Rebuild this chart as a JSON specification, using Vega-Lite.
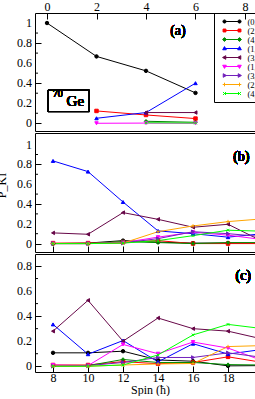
{
  "$schema": "https://vega.github.io/schema/vega-lite/v6.json",
  "padding": {"left": -6, "top": 0, "right": 0, "bottom": 0},
  "spacing": 0,
  "config": {
    "view": {"stroke": "black", "strokeWidth": 1},
    "font": "Liberation Serif",
    "axis": {
      "labelFont": "Liberation Serif", "labelFontSize": 12, "labelColor": "black",
      "titleFont": "Liberation Serif", "titleFontSize": 12, "titleColor": "black", "titleFontWeight": "normal",
      "domain": false, "tickColor": "black", "tickWidth": 1,
      "grid": false, "labelFlush": false, "labelOverlap": false
    }
  },
  "datasets": {
    "a": [
      {"s": 1, "x": 0, "v": 1.0}, {"s": 1, "x": 2, "v": 0.667}, {"s": 1, "x": 4, "v": 0.523}, {"s": 1, "x": 6, "v": 0.303},
      {"s": 2, "x": 2, "v": 0.123}, {"s": 2, "x": 4, "v": 0.083}, {"s": 2, "x": 6, "v": 0.047},
      {"s": 3, "x": 4, "v": 0.02}, {"s": 3, "x": 6, "v": 0.01},
      {"s": 4, "x": 2, "v": 0.05}, {"s": 4, "x": 4, "v": 0.107}, {"s": 4, "x": 6, "v": 0.40},
      {"s": 5, "x": 4, "v": 0.107}, {"s": 5, "x": 6, "v": 0.107},
      {"s": 6, "x": 2, "v": 0.0}, {"s": 6, "x": 4, "v": 0.002}, {"s": 6, "x": 6, "v": 0.0},
      {"s": 9, "x": 4, "v": 0.005}, {"s": 9, "x": 6, "v": 0.003}
    ],
    "b": [
      {"s": 1, "x": 8, "v": 0.0}, {"s": 1, "x": 10, "v": 0.005}, {"s": 1, "x": 12, "v": 0.03}, {"s": 1, "x": 14, "v": 0.015}, {"s": 1, "x": 16, "v": 0.005}, {"s": 1, "x": 18, "v": 0.005}, {"s": 1, "x": 20, "v": 0.005},
      {"s": 2, "x": 8, "v": 0.005}, {"s": 2, "x": 10, "v": 0.005}, {"s": 2, "x": 12, "v": 0.015}, {"s": 2, "x": 14, "v": 0.03}, {"s": 2, "x": 16, "v": 0.0}, {"s": 2, "x": 18, "v": 0.0}, {"s": 2, "x": 20, "v": 0.0},
      {"s": 3, "x": 8, "v": 0.0}, {"s": 3, "x": 10, "v": 0.0}, {"s": 3, "x": 12, "v": 0.02}, {"s": 3, "x": 14, "v": 0.01}, {"s": 3, "x": 16, "v": 0.0}, {"s": 3, "x": 18, "v": 0.01}, {"s": 3, "x": 20, "v": 0.01},
      {"s": 4, "x": 8, "v": 0.835}, {"s": 4, "x": 10, "v": 0.727}, {"s": 4, "x": 12, "v": 0.42}, {"s": 4, "x": 14, "v": 0.128}, {"s": 4, "x": 16, "v": 0.10}, {"s": 4, "x": 18, "v": 0.065}, {"s": 4, "x": 20, "v": 0.10},
      {"s": 5, "x": 8, "v": 0.108}, {"s": 5, "x": 10, "v": 0.094}, {"s": 5, "x": 12, "v": 0.313}, {"s": 5, "x": 14, "v": 0.245}, {"s": 5, "x": 16, "v": 0.165}, {"s": 5, "x": 18, "v": 0.195}, {"s": 5, "x": 20, "v": 0.02},
      {"s": 6, "x": 8, "v": 0.0}, {"s": 6, "x": 10, "v": 0.0}, {"s": 6, "x": 12, "v": 0.01}, {"s": 6, "x": 14, "v": 0.065}, {"s": 6, "x": 16, "v": 0.115}, {"s": 6, "x": 18, "v": 0.085}, {"s": 6, "x": 20, "v": 0.04},
      {"s": 7, "x": 8, "v": 0.0}, {"s": 7, "x": 10, "v": 0.0}, {"s": 7, "x": 12, "v": 0.005}, {"s": 7, "x": 14, "v": 0.05}, {"s": 7, "x": 16, "v": 0.12}, {"s": 7, "x": 18, "v": 0.10}, {"s": 7, "x": 20, "v": 0.07},
      {"s": 8, "x": 8, "v": 0.0}, {"s": 8, "x": 10, "v": 0.0}, {"s": 8, "x": 12, "v": 0.005}, {"s": 8, "x": 14, "v": 0.12}, {"s": 8, "x": 16, "v": 0.178}, {"s": 8, "x": 18, "v": 0.222}, {"s": 8, "x": 20, "v": 0.25},
      {"s": 9, "x": 8, "v": 0.0}, {"s": 9, "x": 10, "v": 0.0}, {"s": 9, "x": 12, "v": 0.005}, {"s": 9, "x": 14, "v": 0.03}, {"s": 9, "x": 16, "v": 0.08}, {"s": 9, "x": 18, "v": 0.135}, {"s": 9, "x": 20, "v": 0.125}
    ],
    "c": [
      {"s": 1, "x": 8, "v": 0.107}, {"s": 1, "x": 10, "v": 0.107}, {"s": 1, "x": 12, "v": 0.12}, {"s": 1, "x": 14, "v": 0.05}, {"s": 1, "x": 16, "v": 0.04}, {"s": 1, "x": 18, "v": 0.003}, {"s": 1, "x": 20, "v": 0.005},
      {"s": 2, "x": 8, "v": 0.01}, {"s": 2, "x": 10, "v": 0.01}, {"s": 2, "x": 12, "v": 0.037}, {"s": 2, "x": 14, "v": 0.02}, {"s": 2, "x": 16, "v": 0.03}, {"s": 2, "x": 18, "v": 0.075}, {"s": 2, "x": 20, "v": 0.03},
      {"s": 3, "x": 8, "v": 0.0}, {"s": 3, "x": 10, "v": 0.005}, {"s": 3, "x": 12, "v": 0.054}, {"s": 3, "x": 14, "v": 0.03}, {"s": 3, "x": 16, "v": 0.03}, {"s": 3, "x": 18, "v": 0.013}, {"s": 3, "x": 20, "v": 0.01},
      {"s": 4, "x": 8, "v": 0.334}, {"s": 4, "x": 10, "v": 0.096}, {"s": 4, "x": 12, "v": 0.205}, {"s": 4, "x": 14, "v": 0.035}, {"s": 4, "x": 16, "v": 0.18}, {"s": 4, "x": 18, "v": 0.097}, {"s": 4, "x": 20, "v": 0.135},
      {"s": 5, "x": 8, "v": 0.28}, {"s": 5, "x": 10, "v": 0.526}, {"s": 5, "x": 12, "v": 0.2}, {"s": 5, "x": 14, "v": 0.385}, {"s": 5, "x": 16, "v": 0.30}, {"s": 5, "x": 18, "v": 0.28}, {"s": 5, "x": 20, "v": 0.216},
      {"s": 6, "x": 8, "v": 0.01}, {"s": 6, "x": 10, "v": 0.005}, {"s": 6, "x": 12, "v": 0.174}, {"s": 6, "x": 14, "v": 0.10}, {"s": 6, "x": 16, "v": 0.193}, {"s": 6, "x": 18, "v": 0.145}, {"s": 6, "x": 20, "v": 0.043},
      {"s": 7, "x": 8, "v": 0.0}, {"s": 7, "x": 10, "v": 0.005}, {"s": 7, "x": 12, "v": 0.03}, {"s": 7, "x": 14, "v": 0.07}, {"s": 7, "x": 16, "v": 0.07}, {"s": 7, "x": 18, "v": 0.107}, {"s": 7, "x": 20, "v": 0.07},
      {"s": 8, "x": 8, "v": 0.0}, {"s": 8, "x": 10, "v": 0.0}, {"s": 8, "x": 12, "v": 0.01}, {"s": 8, "x": 14, "v": 0.018}, {"s": 8, "x": 16, "v": 0.022}, {"s": 8, "x": 18, "v": 0.157}, {"s": 8, "x": 20, "v": 0.165},
      {"s": 9, "x": 8, "v": 0.0}, {"s": 9, "x": 10, "v": 0.0}, {"s": 9, "x": 12, "v": 0.01}, {"s": 9, "x": 14, "v": 0.09}, {"s": 9, "x": 16, "v": 0.25}, {"s": 9, "x": 18, "v": 0.334}, {"s": 9, "x": 20, "v": 0.30}
    ],
    "minorAB": [{"t": 0.1}, {"t": 0.3}, {"t": 0.5}, {"t": 0.7}, {"t": 0.9}],
    "minorC": [{"t": 0.1}, {"t": 0.3}, {"t": 0.5}, {"t": 0.7}],
    "labAB": [{"t": 0}, {"t": 0.2}, {"t": 0.4}, {"t": 0.6}, {"t": 0.8}, {"t": 1}],
    "labC": [{"t": 0}, {"t": 0.2}, {"t": 0.4}, {"t": 0.6}, {"t": 0.8}]
  },
  "vconcat": [
    {
      "width": 246, "height": 118,
      "data": {"name": "a"},
      "layer": [
        {
          "mark": {"type": "line", "strokeWidth": 1, "clip": true},
          "encoding": {
            "x": {"field": "x", "type": "quantitative", "scale": {"domain": [-0.485, 9.455], "nice": false, "zero": false},
                  "axis": {"orient": "top", "title": null, "values": [0,1,2,3,4,5,6,7,8], "labelOverlap": false,
                           "labelExpr": "datum.value % 2 === 0 ? datum.label : ''",
                           "tickSize": {"condition": {"test": "datum.value % 2 === 0", "value": -6}, "value": -3},
                           "labelPadding": 5.5}},
            "y": {"field": "v", "type": "quantitative", "scale": {"domain": [-0.077, 1.1], "nice": false, "zero": false},
                  "axis": {"title": null, "values": [0,0.2,0.4,0.6,0.8,1], "labels": false, "tickSize": -6}},
            "color": {"field": "s", "type": "nominal",
                      "scale": {"domain": [1,2,3,4,5,6,7,8,9], "range": ["#000000","#ff0000","#008b00","#0000ff","#670748","#ff00ff","#7221bc","#ffa500","#00ff00"]},
                      "legend": {
                        "orient": "none", "legendX": 179, "legendY": 0, "title": null,
                        "strokeColor": "black", "padding": 4, "symbolSize": 64, "symbolOffset": 9.5, "symbolStrokeWidth": 1,
                        "labelFont": "Liberation Serif", "labelFontSize": 8.5, "labelColor": "black", "labelOffset": 11, "rowPadding": 0,
                        "labelExpr": "['(0,0)','(2,0)','(4,0)','(1,2)','(3,2)','(1,2)','(3,2)','(2,4)','(4,4)'][datum.value-1]",
                        "encode": {"symbols": {"update": {
                          "shape": {"signal": "['M-1.875,0H1.875M-2.275,0a0.4,0.4 0 1,0 0.8,0a0.4,0.4 0 1,0 -0.8,0M1.475,0a0.4,0.4 0 1,0 0.8,0a0.4,0.4 0 1,0 -0.8,0','M-1.875,0H1.875M-2.235,-0.36h0.72v0.72h-0.72zM1.515,-0.36h0.72v0.72h-0.72z','M-1.875,0H1.875M-1.875,-0.48l0.48,0.48l-0.48,0.48l-0.48,-0.48zM1.875,-0.48l0.48,0.48l-0.48,0.48l-0.48,-0.48z','M-1.875,0H1.875M-1.875,-0.48l0.45,0.8h-0.9zM1.875,-0.48l0.45,0.8h-0.9z','M-1.875,0H1.875M-2.355,0l0.8,-0.45v0.9zM1.395,0l0.8,-0.45v0.9z','M-1.875,0H1.875M-1.875,0.48l0.45,-0.8h-0.9zM1.875,0.48l0.45,-0.8h-0.9z','M-1.875,0H1.875M-1.395,0l-0.8,-0.45v0.9zM2.355,0l-0.8,-0.45v0.9z','M-1.875,0H1.875M-2.325,0h0.9M-1.875,-0.45v0.9M1.425,0h0.9M1.875,-0.45v0.9','M-1.875,0H1.875M-2.255,-0.38l0.76,0.76M-2.255,0.38l0.76,-0.76M1.495,-0.38l0.76,0.76M1.495,0.38l0.76,-0.76'][datum.value-1]"},
                          "fill": {"signal": "['#000000','#ff0000','#008b00','#0000ff','#670748','#ff00ff','#7221bc','#ffa500','#00ff00'][datum.value-1]"},
                          "stroke": {"signal": "['#000000','#ff0000','#008b00','#0000ff','#670748','#ff00ff','#7221bc','#ffa500','#00ff00'][datum.value-1]"},
                          "opacity": {"value": 1}
                        }}}
                      }}
          }
        },
        {
          "mark": {"type": "point", "filled": true, "size": 12, "strokeWidth": 1, "opacity": 1, "clip": true},
          "encoding": {
            "x": {"field": "x", "type": "quantitative", "scale": {"domain": [-0.485, 9.455], "nice": false, "zero": false}},
            "y": {"field": "v", "type": "quantitative", "scale": {"domain": [-0.077, 1.1], "nice": false, "zero": false}},
            "color": {"field": "s", "type": "nominal", "scale": {"domain": [1,2,3,4,5,6,7,8,9], "range": ["#000000","#ff0000","#008b00","#0000ff","#670748","#ff00ff","#7221bc","#ffa500","#00ff00"]}, "legend": null},
            "stroke": {"field": "s", "type": "nominal", "scale": {"domain": [9,8,7,6,5,4,3,2,1], "range": ["#00ff00","#ffa500","#7221bc","#ff00ff","#670748","#0000ff","#008b00","#ff0000","#000000"]}, "legend": null},
            "shape": {"field": "s", "type": "nominal", "scale": {"domain": [9,8,7,6,5,4,3,2,1], "range": ["M-0.8,-0.8L0.8,0.8M-0.8,0.8L0.8,-0.8","M-1,0H1M0,-1V1","triangle-right","triangle-down","triangle-left","triangle-up","diamond","square","circle"]}, "legend": null}
          }
        },
        {
          "data": {"name": "minorAB"},
          "mark": {"type": "tick", "orient": "horizontal", "size": 6, "thickness": 1, "color": "black", "opacity": 1, "clip": true},
          "encoding": {
            "x": {"datum": -0.485, "type": "quantitative", "scale": {"domain": [-0.485, 9.455], "nice": false, "zero": false}},
            "y": {"field": "t", "type": "quantitative", "scale": {"domain": [-0.077, 1.1], "nice": false, "zero": false}}
          }
        },
        {
          "data": {"name": "labAB"},
          "mark": {"type": "text", "font": "Liberation Serif", "fontSize": 12, "fontWeight": "normal", "color": "black", "align": "right", "baseline": "middle", "dx": -3},
          "encoding": {
            "x": {"datum": -0.485, "type": "quantitative", "scale": {"domain": [-0.485, 9.455], "nice": false, "zero": false}},
            "y": {"field": "t", "type": "quantitative", "scale": {"domain": [-0.077, 1.1], "nice": false, "zero": false}},
            "text": {"field": "t", "type": "quantitative", "format": "~g"}
          }
        },
        {
          "mark": {"type": "text", "font": "Liberation Serif", "fontSize": 14, "fontWeight": "normal", "color": "black"},
          "encoding": {
            "x": {"datum": 5.29, "type": "quantitative", "scale": {"domain": [-0.485, 9.455], "nice": false, "zero": false}},
            "y": {"datum": 0.92, "type": "quantitative", "scale": {"domain": [-0.077, 1.1], "nice": false, "zero": false}},
            "text": {"value": "(a)"}
          }
        },
        {
          "mark": {"type": "rect", "fill": "transparent", "stroke": "black", "strokeWidth": 1},
          "encoding": {
            "x": {"datum": 0.04, "type": "quantitative", "scale": {"domain": [-0.485, 9.455], "nice": false, "zero": false}},
            "x2": {"datum": 1.71},
            "y": {"datum": 0.33, "type": "quantitative", "scale": {"domain": [-0.077, 1.1], "nice": false, "zero": false}},
            "y2": {"datum": 0.117}
          }
        },
        {
          "mark": {"type": "text", "font": "Liberation Serif", "fontSize": 10, "fontWeight": "normal", "color": "black", "align": "left", "baseline": "alphabetic"},
          "encoding": {
            "x": {"datum": 0.23, "type": "quantitative", "scale": {"domain": [-0.485, 9.455], "nice": false, "zero": false}},
            "y": {"datum": 0.26, "type": "quantitative", "scale": {"domain": [-0.077, 1.1], "nice": false, "zero": false}},
            "text": {"value": "70"}
          }
        },
        {
          "mark": {"type": "text", "font": "Liberation Serif", "fontSize": 15, "fontWeight": "normal", "color": "black", "align": "left", "baseline": "alphabetic"},
          "encoding": {
            "x": {"datum": 0.79, "type": "quantitative", "scale": {"domain": [-0.485, 9.455], "nice": false, "zero": false}},
            "y": {"datum": 0.175, "type": "quantitative", "scale": {"domain": [-0.077, 1.1], "nice": false, "zero": false}},
            "text": {"value": "Ge"}
          }
        }
      ]
    },
    {
      "width": 246, "height": 119,
      "data": {"name": "b"},
      "layer": [
        {
          "mark": {"type": "line", "strokeWidth": 1, "clip": true},
          "encoding": {
            "x": {"field": "x", "type": "quantitative", "scale": {"domain": [6.97, 21.027], "nice": false, "zero": false},
                  "axis": {"orient": "bottom", "title": null, "values": [8,9,10,11,12,13,14,15,16,17,18,19,20], "labels": false,
                           "tickSize": {"condition": {"test": "datum.value % 2 === 0", "value": -6}, "value": -3}}},
            "y": {"field": "v", "type": "quantitative", "scale": {"domain": [-0.085, 1.117], "nice": false, "zero": false},
                  "axis": {"title": "P_KI", "titleX": -27, "titleY": 52, "values": [0,0.2,0.4,0.6,0.8,1], "labels": false, "tickSize": -6}},
            "color": {"field": "s", "type": "nominal", "scale": {"domain": [1,2,3,4,5,6,7,8,9], "range": ["#000000","#ff0000","#008b00","#0000ff","#670748","#ff00ff","#7221bc","#ffa500","#00ff00"]}, "legend": null}
          }
        },
        {
          "mark": {"type": "point", "filled": true, "size": 12, "strokeWidth": 1, "opacity": 1, "clip": true},
          "encoding": {
            "x": {"field": "x", "type": "quantitative", "scale": {"domain": [6.97, 21.027], "nice": false, "zero": false}},
            "y": {"field": "v", "type": "quantitative", "scale": {"domain": [-0.085, 1.117], "nice": false, "zero": false}},
            "color": {"field": "s", "type": "nominal", "scale": {"domain": [1,2,3,4,5,6,7,8,9], "range": ["#000000","#ff0000","#008b00","#0000ff","#670748","#ff00ff","#7221bc","#ffa500","#00ff00"]}, "legend": null},
            "stroke": {"field": "s", "type": "nominal", "scale": {"domain": [9,8,7,6,5,4,3,2,1], "range": ["#00ff00","#ffa500","#7221bc","#ff00ff","#670748","#0000ff","#008b00","#ff0000","#000000"]}, "legend": null},
            "shape": {"field": "s", "type": "nominal", "scale": {"domain": [9,8,7,6,5,4,3,2,1], "range": ["M-0.8,-0.8L0.8,0.8M-0.8,0.8L0.8,-0.8","M-1,0H1M0,-1V1","triangle-right","triangle-down","triangle-left","triangle-up","diamond","square","circle"]}, "legend": null}
          }
        },
        {
          "data": {"name": "minorAB"},
          "mark": {"type": "tick", "orient": "horizontal", "size": 6, "thickness": 1, "color": "black", "opacity": 1, "clip": true},
          "encoding": {
            "x": {"datum": 6.97, "type": "quantitative", "scale": {"domain": [6.97, 21.027], "nice": false, "zero": false}},
            "y": {"field": "t", "type": "quantitative", "scale": {"domain": [-0.085, 1.117], "nice": false, "zero": false}}
          }
        },
        {
          "data": {"name": "labAB"},
          "mark": {"type": "text", "font": "Liberation Serif", "fontSize": 12, "fontWeight": "normal", "color": "black", "align": "right", "baseline": "middle", "dx": -3},
          "encoding": {
            "x": {"datum": 6.97, "type": "quantitative", "scale": {"domain": [6.97, 21.027], "nice": false, "zero": false}},
            "y": {"field": "t", "type": "quantitative", "scale": {"domain": [-0.085, 1.117], "nice": false, "zero": false}},
            "text": {"field": "t", "type": "quantitative", "format": "~g"}
          }
        },
        {
          "mark": {"type": "text", "font": "Liberation Serif", "fontSize": 14, "fontWeight": "normal", "color": "black"},
          "encoding": {
            "x": {"datum": 18.76, "type": "quantitative", "scale": {"domain": [6.97, 21.027], "nice": false, "zero": false}},
            "y": {"datum": 0.87, "type": "quantitative", "scale": {"domain": [-0.085, 1.117], "nice": false, "zero": false}},
            "text": {"value": "(b)"}
          }
        }
      ]
    },
    {
      "width": 246, "height": 118,
      "data": {"name": "c"},
      "layer": [
        {
          "mark": {"type": "line", "strokeWidth": 1, "clip": true},
          "encoding": {
            "x": {"field": "x", "type": "quantitative", "scale": {"domain": [6.97, 21.027], "nice": false, "zero": false},
                  "axis": {"orient": "bottom", "title": "Spin (ħ)", "titleFontSize": 12, "titlePadding": 1, "titleX": 115, "values": [8,9,10,11,12,13,14,15,16,17,18,19,20], "labelOverlap": false,
                           "labelExpr": "datum.value % 2 === 0 ? datum.label : ''",
                           "tickSize": {"condition": {"test": "datum.value % 2 === 0", "value": -6}, "value": -3},
                           "labelPadding": 6.5}},
            "y": {"field": "v", "type": "quantitative", "scale": {"domain": [-0.046, 0.896], "nice": false, "zero": false},
                  "axis": {"title": null, "values": [0,0.2,0.4,0.6,0.8], "labels": false, "tickSize": -6}},
            "color": {"field": "s", "type": "nominal", "scale": {"domain": [1,2,3,4,5,6,7,8,9], "range": ["#000000","#ff0000","#008b00","#0000ff","#670748","#ff00ff","#7221bc","#ffa500","#00ff00"]}, "legend": null}
          }
        },
        {
          "mark": {"type": "point", "filled": true, "size": 12, "strokeWidth": 1, "opacity": 1, "clip": true},
          "encoding": {
            "x": {"field": "x", "type": "quantitative", "scale": {"domain": [6.97, 21.027], "nice": false, "zero": false}},
            "y": {"field": "v", "type": "quantitative", "scale": {"domain": [-0.046, 0.896], "nice": false, "zero": false}},
            "color": {"field": "s", "type": "nominal", "scale": {"domain": [1,2,3,4,5,6,7,8,9], "range": ["#000000","#ff0000","#008b00","#0000ff","#670748","#ff00ff","#7221bc","#ffa500","#00ff00"]}, "legend": null},
            "stroke": {"field": "s", "type": "nominal", "scale": {"domain": [9,8,7,6,5,4,3,2,1], "range": ["#00ff00","#ffa500","#7221bc","#ff00ff","#670748","#0000ff","#008b00","#ff0000","#000000"]}, "legend": null},
            "shape": {"field": "s", "type": "nominal", "scale": {"domain": [9,8,7,6,5,4,3,2,1], "range": ["M-0.8,-0.8L0.8,0.8M-0.8,0.8L0.8,-0.8","M-1,0H1M0,-1V1","triangle-right","triangle-down","triangle-left","triangle-up","diamond","square","circle"]}, "legend": null}
          }
        },
        {
          "data": {"name": "minorC"},
          "mark": {"type": "tick", "orient": "horizontal", "size": 6, "thickness": 1, "color": "black", "opacity": 1, "clip": true},
          "encoding": {
            "x": {"datum": 6.97, "type": "quantitative", "scale": {"domain": [6.97, 21.027], "nice": false, "zero": false}},
            "y": {"field": "t", "type": "quantitative", "scale": {"domain": [-0.046, 0.896], "nice": false, "zero": false}}
          }
        },
        {
          "data": {"name": "labC"},
          "mark": {"type": "text", "font": "Liberation Serif", "fontSize": 12, "fontWeight": "normal", "color": "black", "align": "right", "baseline": "middle", "dx": -3},
          "encoding": {
            "x": {"datum": 6.97, "type": "quantitative", "scale": {"domain": [6.97, 21.027], "nice": false, "zero": false}},
            "y": {"field": "t", "type": "quantitative", "scale": {"domain": [-0.046, 0.896], "nice": false, "zero": false}},
            "text": {"field": "t", "type": "quantitative", "format": "~g"}
          }
        },
        {
          "mark": {"type": "text", "font": "Liberation Serif", "fontSize": 14, "fontWeight": "normal", "color": "black"},
          "encoding": {
            "x": {"datum": 18.87, "type": "quantitative", "scale": {"domain": [6.97, 21.027], "nice": false, "zero": false}},
            "y": {"datum": 0.72, "type": "quantitative", "scale": {"domain": [-0.046, 0.896], "nice": false, "zero": false}},
            "text": {"value": "(c)"}
          }
        }
      ]
    }
  ]
}
